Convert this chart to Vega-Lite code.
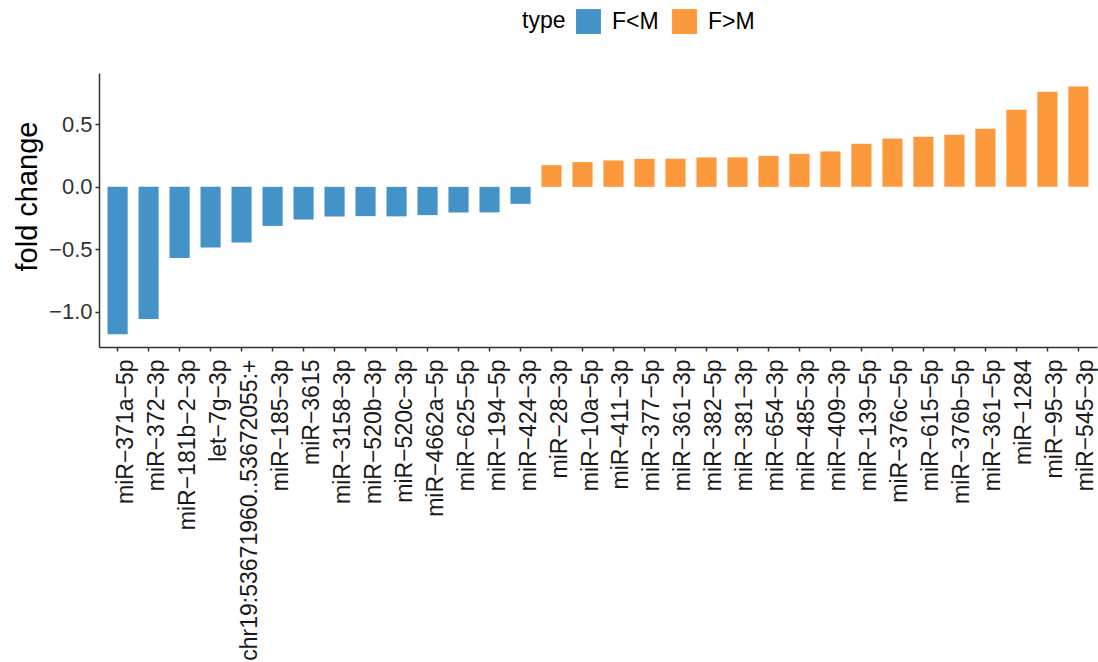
{
  "$schema": "https://vega.github.io/schema/vega-lite/v6.json",
  "width": 998,
  "height": 274,
  "autosize": {"type": "none"},
  "padding": {"left": 99, "top": 73, "right": 1, "bottom": 315},
  "background": "white",
  "config": {"view": {"stroke": null}, "font": "Liberation Sans"},
  "data": {
    "values": [
      {"mirna": "miR−371a−5p", "fc": -1.178, "type": "F<M"},
      {"mirna": "miR−372−3p", "fc": -1.056, "type": "F<M"},
      {"mirna": "miR−181b−2−3p", "fc": -0.568, "type": "F<M"},
      {"mirna": "let−7g−3p", "fc": -0.485, "type": "F<M"},
      {"mirna": "chr19:53671960..53672055:+", "fc": -0.445, "type": "F<M"},
      {"mirna": "miR−185−3p", "fc": -0.312, "type": "F<M"},
      {"mirna": "miR−3615", "fc": -0.261, "type": "F<M"},
      {"mirna": "miR−3158−3p", "fc": -0.237, "type": "F<M"},
      {"mirna": "miR−520b−3p", "fc": -0.234, "type": "F<M"},
      {"mirna": "miR−520c−3p", "fc": -0.236, "type": "F<M"},
      {"mirna": "miR−4662a−5p", "fc": -0.226, "type": "F<M"},
      {"mirna": "miR−625−5p", "fc": -0.205, "type": "F<M"},
      {"mirna": "miR−194−5p", "fc": -0.204, "type": "F<M"},
      {"mirna": "miR−424−3p", "fc": -0.136, "type": "F<M"},
      {"mirna": "miR−28−3p", "fc": 0.174, "type": "F>M"},
      {"mirna": "miR−10a−5p", "fc": 0.198, "type": "F>M"},
      {"mirna": "miR−411−3p", "fc": 0.211, "type": "F>M"},
      {"mirna": "miR−377−5p", "fc": 0.224, "type": "F>M"},
      {"mirna": "miR−361−3p", "fc": 0.225, "type": "F>M"},
      {"mirna": "miR−382−5p", "fc": 0.235, "type": "F>M"},
      {"mirna": "miR−381−3p", "fc": 0.236, "type": "F>M"},
      {"mirna": "miR−654−3p", "fc": 0.248, "type": "F>M"},
      {"mirna": "miR−485−3p", "fc": 0.264, "type": "F>M"},
      {"mirna": "miR−409−3p", "fc": 0.283, "type": "F>M"},
      {"mirna": "miR−139−5p", "fc": 0.344, "type": "F>M"},
      {"mirna": "miR−376c−5p", "fc": 0.387, "type": "F>M"},
      {"mirna": "miR−615−5p", "fc": 0.4, "type": "F>M"},
      {"mirna": "miR−376b−5p", "fc": 0.416, "type": "F>M"},
      {"mirna": "miR−361−5p", "fc": 0.464, "type": "F>M"},
      {"mirna": "miR−1284", "fc": 0.616, "type": "F>M"},
      {"mirna": "miR−95−3p", "fc": 0.76, "type": "F>M"},
      {"mirna": "miR−545−3p", "fc": 0.803, "type": "F>M"}
    ]
  },
  "mark": {"type": "bar"},
  "encoding": {
    "x": {
      "field": "mirna",
      "type": "nominal",
      "sort": null,
      "scale": {"paddingInner": 0.35, "paddingOuter": 0.275},
      "axis": {
        "title": null,
        "labelAngle": -90,
        "labelFontSize": 23,
        "labelColor": "#1a1a1a",
        "labelPadding": 8,
        "labelOffset": 8,
        "labelLimit": 400,
        "labelOverlap": false,
        "tickSize": 4,
        "tickWidth": 1.5,
        "tickColor": "#333333",
        "domainColor": "#333333",
        "domainWidth": 1.5
      }
    },
    "y": {
      "field": "fc",
      "type": "quantitative",
      "scale": {"domain": [-1.28, 0.91], "nice": false},
      "axis": {
        "title": "fold change",
        "values": [-1, -0.5, 0, 0.5],
        "format": ".1f",
        "grid": false,
        "labelFontSize": 22,
        "labelColor": "#333333",
        "labelPadding": 3,
        "tickSize": 4,
        "tickWidth": 1.5,
        "tickColor": "#333333",
        "domainColor": "#333333",
        "domainWidth": 1.5,
        "titleFontSize": 29,
        "titleFontWeight": "normal",
        "titleColor": "#000000",
        "titlePadding": 6,
        "titleY": 123
      }
    },
    "color": {
      "field": "type",
      "type": "nominal",
      "scale": {"domain": ["F<M", "F>M"], "range": ["#4493C8", "#FD993D"]},
      "legend": {
        "orient": "none",
        "legendX": 423,
        "legendY": -64,
        "direction": "horizontal",
        "title": "type",
        "titleOrient": "left",
        "titleFontSize": 23,
        "titleFontWeight": "normal",
        "titleColor": "#000000",
        "titlePadding": 10,
        "labelFontSize": 23,
        "labelColor": "#000000",
        "labelOffset": 11,
        "columnPadding": 13,
        "symbolType": "square",
        "symbolSize": 620,
        "symbolStrokeWidth": 0,
        "symbolOpacity": 1
      }
    }
  }
}
